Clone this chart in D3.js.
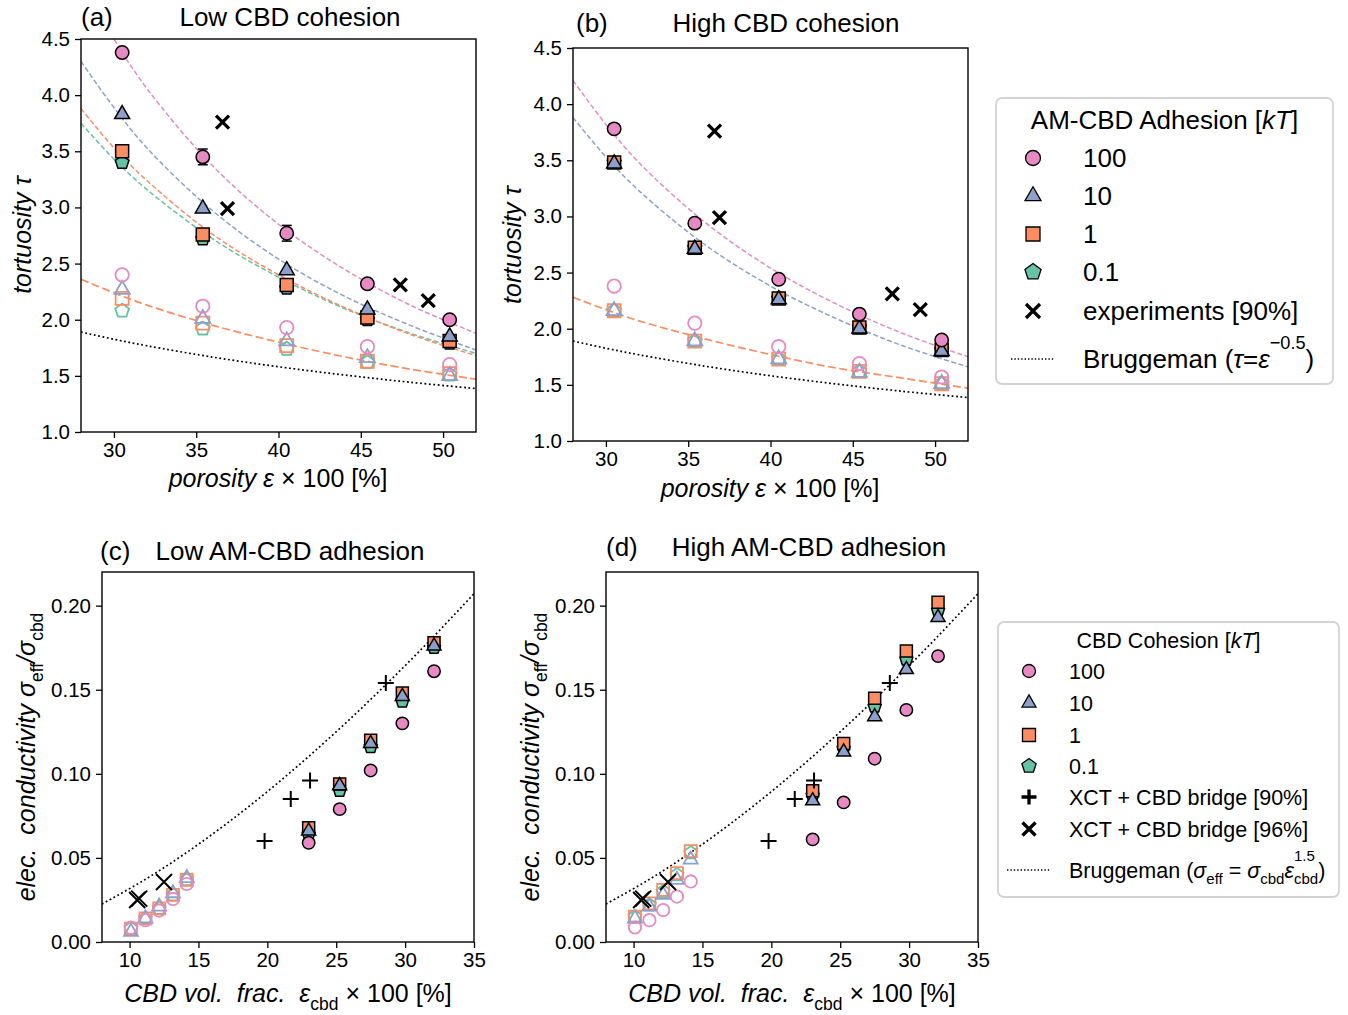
<!DOCTYPE html>
<html>
<head>
<meta charset="utf-8">
<script src="https://cdn.jsdelivr.net/npm/d3@7"></script>
<style>
  body { margin: 0; background: #fff; }
  text { font-family: "Liberation Sans", Arial, sans-serif; fill: #000; }
</style>
</head>
<body>
<script>
// ---- data ----
// tortuosity panels: porosity x 100 [%]
var porosity = [30.5, 35.4, 40.5, 45.4, 50.4];
var expPorosity = [36.6, 36.9, 47.4, 49.1];
var expTau = [3.76, 2.99, 2.31, 2.17];

// (a) low CBD cohesion
var aFill100 = [4.38, 3.45, 2.77, 2.32, 2.00];
var aErr100  = [0.00, 0.07, 0.07, 0.00, 0.00];
var aFill10  = [3.83, 2.99, 2.44, 2.09, 1.85];
var aFill1   = [3.50, 2.76, 2.31, 2.02, 1.81];
var aFill01  = [3.40, 2.72, 2.28, 2.00, 1.79];
var aHol100  = [2.40, 2.12, 1.93, 1.76, 1.60];
var aHol10   = [2.27, 2.01, 1.81, 1.66, 1.50];
var aHol1    = [2.19, 1.97, 1.77, 1.63, 1.52];
var aHol01   = [2.08, 1.92, 1.74, 1.62, 1.51];

// (b) high CBD cohesion
var bFill100 = [3.78, 2.94, 2.44, 2.13, 1.90];
var bFill10  = [3.47, 2.71, 2.26, 2.00, 1.80];
var bFill1   = [3.48, 2.72, 2.27, 2.01, 1.81];
var bFill01  = [3.48, 2.72, 2.27, 2.01, 1.81];
var bHol100  = [2.38, 2.05, 1.84, 1.69, 1.57];
var bHol10   = [2.16, 1.89, 1.73, 1.61, 1.51];
var bHol1    = [2.16, 1.89, 1.73, 1.62, 1.51];
var bHol01   = [2.16, 1.89, 1.73, 1.62, 1.51];

// dashed fit curves and Bruggeman
var fitPorosity = [28, 30, 32, 36, 40, 44, 48, 52];
var aFit100 = [5.02, 4.50, 4.06, 3.37, 2.85, 2.45, 2.13, 1.88];
var aFit10  = [4.30, 3.89, 3.53, 2.97, 2.54, 2.21, 1.95, 1.73];
var aFit1   = [3.88, 3.53, 3.24, 2.76, 2.40, 2.11, 1.87, 1.68];
var aFit01  = [3.75, 3.43, 3.16, 2.72, 2.38, 2.10, 1.88, 1.70];
var aFitHol = [2.36, 2.24, 2.13, 1.95, 1.80, 1.67, 1.56, 1.47];
var bFit100 = [4.21, 3.82, 3.48, 2.95, 2.54, 2.22, 1.96, 1.75];
var bFit10  = [3.88, 3.53, 3.23, 2.75, 2.38, 2.09, 1.85, 1.66];
var bFitHol = [2.28, 2.17, 2.07, 1.91, 1.77, 1.65, 1.56, 1.47];
var bruggTau = [1.890, 1.826, 1.768, 1.667, 1.581, 1.508, 1.443, 1.387];

// conductivity panels: CBD vol. frac. x 100 [%]
var cbdHigh = [23.0, 25.25, 27.5, 29.8, 32.1];
var cbdLow  = [10.1, 11.15, 12.15, 13.15, 14.15];
var xct90X = [19.8, 21.7, 23.1, 28.6];
var xct90Y = [0.060, 0.085, 0.096, 0.154];
var xct96X = [10.55, 10.7, 12.5];
var xct96Y = [0.0250, 0.0258, 0.0357];

// (c) low AM-CBD adhesion
var cFill100 = [0.059, 0.079, 0.102, 0.130, 0.161];
var cFill10  = [0.066, 0.093, 0.118, 0.146, 0.176];
var cFill1   = [0.068, 0.094, 0.120, 0.148, 0.178];
var cFill01  = [0.064, 0.090, 0.116, 0.143, 0.175];
var cHol100  = [0.0085, 0.013, 0.0187, 0.0256, 0.0345];
var cHol10   = [0.006, 0.014, 0.021, 0.029, 0.038];
var cHol1    = [0.008, 0.014, 0.020, 0.028, 0.037];
var cHol01   = [0.008, 0.014, 0.020, 0.028, 0.037];

// (d) high AM-CBD adhesion
var dFill100 = [0.061, 0.083, 0.109, 0.138, 0.170];
var dFill10  = [0.084, 0.113, 0.134, 0.162, 0.193];
var dFill1   = [0.090, 0.118, 0.145, 0.173, 0.202];
var dFill01  = [0.087, 0.115, 0.140, 0.168, 0.197];
var dHol100  = [0.0087, 0.013, 0.019, 0.027, 0.036];
var dHol10   = [0.014, 0.021, 0.028, 0.037, 0.049];
var dHol1    = [0.015, 0.023, 0.031, 0.041, 0.054];
var dHol01   = [0.015, 0.022, 0.030, 0.040, 0.053];

var bruggCbd = [8, 11, 14, 17, 20, 23, 26, 29, 32, 35];
var bruggSig = [0.0226, 0.0365, 0.0524, 0.0701, 0.0894, 0.1103, 0.1326, 0.1562, 0.1810, 0.2071];

var tauTicks = [1.0, 1.5, 2.0, 2.5, 3.0, 3.5, 4.0, 4.5];
var porTicks = [30, 35, 40, 45, 50];
var sigTicks = [0, 0.05, 0.10, 0.15, 0.20];
var cbdTicks = [10, 15, 20, 25, 30, 35];

var legend1Labels = ["100", "10", "1", "0.1", "experiments [90%]"];
var legend2Labels = ["100", "10", "1", "0.1", "XCT + CBD bridge [90%]", "XCT + CBD bridge [96%]"];

// ---- styles ----
var PINK = "#e78ac3", BLUE = "#8da0cb", ORANGE = "#fc8d62", GREEN = "#66c2a5";
var FONT = "'Liberation Sans', Arial, sans-serif";
var TICK_FS = 20.5, LABEL_FS = 25, TITLE_FS = 26;

var svg = d3.select("body").append("svg")
    .attr("width", 1348).attr("height", 1015);

function pentagon(r) {
  var pts = [];
  for (var k = 0; k < 5; k++) {
    var a = -Math.PI / 2 + k * 2 * Math.PI / 5;
    pts.push([r * Math.cos(a), r * Math.sin(a)]);
  }
  return "M" + pts.join("L") + "Z";
}

function shapePath(shape, sz) {
  if (shape === "circle") return d3.symbol(d3.symbolCircle, Math.PI * sz.r * sz.r)();
  if (shape === "triangle") return d3.symbol(d3.symbolTriangle, Math.sqrt(3) / 4 * sz.tri * sz.tri)();
  if (shape === "square") return d3.symbol(d3.symbolSquare, sz.sq * sz.sq)();
  if (shape === "pentagon") return pentagon(sz.pent);
  if (shape === "x") return "M" + -sz.x + "," + -sz.x + "L" + sz.x + "," + sz.x + "M" + -sz.x + "," + sz.x + "L" + sz.x + "," + -sz.x;
  if (shape === "plus") return "M" + -sz.p + ",0L" + sz.p + ",0M0," + -sz.p + "L0," + sz.p;
}

// text with italic / sub / superscript parts; "back" stacks a superscript over the previous subscript
function rich(parent, x, y, parts, size, anchor, rotate) {
  var t = parent.append("text").attr("x", x).attr("y", y)
      .attr("font-size", size).attr("text-anchor", anchor || "start")
      .style("white-space", "pre");
  if (rotate) t.attr("transform", "rotate(" + rotate + "," + x + "," + y + ")");
  var cur = 0, subLen = 0, fwd = 0;
  parts.forEach(function (p) {
    var fs = (p.sub || p.sup) ? 0.7 : 1;
    var off = p.sub ? 0.3 * size : p.sup ? -(p.hi || 0.5) * size : 0;
    var ts = t.append("tspan").text(p.t).attr("font-size", size * fs).attr("dy", off - cur);
    if (p.it) ts.style("font-style", "italic");
    if (p.back) {
      ts.attr("dx", -subLen);
      fwd = Math.max(0, subLen - ts.node().getComputedTextLength());
    } else if (fwd) {
      ts.attr("dx", fwd);
      fwd = 0;
    }
    if (p.sub) subLen = ts.node().getComputedTextLength();
    cur = off;
  });
  return t;
}

function drawPanel(p) {
  var x = d3.scaleLinear().domain(p.xDom).range([p.left, p.right]);
  var y = d3.scaleLinear().domain(p.yDom).range([p.bottom, p.top]);
  var g = svg.append("g");

  g.append("clipPath").attr("id", "clip" + p.id).append("rect")
      .attr("x", p.left).attr("y", p.top)
      .attr("width", p.right - p.left).attr("height", p.bottom - p.top);

  var line = d3.line().x(function (d) { return x(d[0]); })
      .y(function (d) { return y(d[1]); })
      .curve(d3.curveCatmullRom.alpha(0.5));

  p.lines.forEach(function (L) {
    g.append("path").datum(d3.zip(L.x, L.y))
        .attr("d", line)
        .attr("clip-path", "url(#clip" + p.id + ")")
        .attr("fill", "none")
        .attr("stroke", L.color)
        .attr("stroke-width", L.w)
        .attr("stroke-dasharray", L.dash);
  });

  p.series.forEach(function (S) {
    var pts = d3.zip(S.x, S.y);
    if (S.err) {
      var eg = g.append("g").attr("stroke", "#000").attr("stroke-width", 1.5);
      pts.forEach(function (d, i) {
        var e = S.err[i];
        if (!e) return;
        var cx = x(d[0]), y0 = y(d[1] - e), y1 = y(d[1] + e);
        eg.append("line").attr("x1", cx).attr("x2", cx).attr("y1", y0).attr("y2", y1);
        eg.append("line").attr("x1", cx - 5).attr("x2", cx + 5).attr("y1", y0).attr("y2", y0);
        eg.append("line").attr("x1", cx - 5).attr("x2", cx + 5).attr("y1", y1).attr("y2", y1);
      });
    }
    g.append("g").selectAll("path").data(pts).join("path")
        .attr("transform", function (d) { return "translate(" + x(d[0]) + "," + y(d[1]) + ")"; })
        .attr("d", shapePath(S.shape, p.sz))
        .attr("fill", S.fill)
        .attr("stroke", S.stroke)
        .attr("stroke-width", S.sw);
  });

  var ax = g.append("g").attr("transform", "translate(0," + p.bottom + ")")
      .call(d3.axisBottom(x).tickValues(p.xTicks).tickSize(6).tickSizeOuter(0).tickPadding(4)
        .tickFormat(d3.format("d")));
  var ay = g.append("g").attr("transform", "translate(" + p.left + ",0)")
      .call(d3.axisLeft(y).tickValues(p.yTicks).tickSize(6).tickSizeOuter(0).tickPadding(5)
        .tickFormat(d3.format(p.yFmt)));
  [ax, ay].forEach(function (a) {
    a.select(".domain").remove();
    a.attr("font-family", FONT).attr("font-size", TICK_FS);
    a.selectAll("line").attr("stroke-width", 1.3);
    a.selectAll("text").attr("fill", "#000");
  });

  g.append("rect").attr("x", p.left).attr("y", p.top)
      .attr("width", p.right - p.left).attr("height", p.bottom - p.top)
      .attr("fill", "none").attr("stroke", "#000").attr("stroke-width", 1.4);

  return g;
}

function filledSeries(xs, ys, shape, color, err) {
  return { x: xs, y: ys, shape: shape, fill: color, stroke: "#000", sw: 1.5, err: err };
}
function hollowSeries(xs, ys, shape, color) {
  return { x: xs, y: ys, shape: shape, fill: "none", stroke: color, sw: 1.8 };
}

var szTau = { r: 6.7, tri: 15, sq: 13, pent: 7.2, x: 6.5 };
var szSig = { r: 6.2, tri: 14, sq: 12, pent: 6.8, x: 8, p: 8 };
var upperDash = "5,2.5", lowerDash = "8,3.5", dotted = "1.8,2.6";

function tauPanel(id, left, top, fits, fill, hol, err) {
  var lines = [{ x: fitPorosity, y: bruggTau, color: "#000", w: 1.7, dash: dotted }];
  fits.forEach(function (f) {
    lines.push({ x: fitPorosity, y: f[0], color: f[1], w: f[2] ? 1.7 : 1.5, dash: f[2] ? lowerDash : upperDash });
  });
  var shapes = ["pentagon", "square", "triangle", "circle"];
  var colors = [GREEN, ORANGE, BLUE, PINK];
  var series = [];
  hol.forEach(function (s, i) { series.push(hollowSeries(porosity, s, shapes[i], colors[i])); });
  fill.forEach(function (s, i) { series.push(filledSeries(porosity, s, shapes[i], colors[i], i === 3 ? err : null)); });
  series.push({ x: expPorosity, y: expTau, shape: "x", fill: "none", stroke: "#000", sw: 3.3 });
  return drawPanel({
    id: id, left: left, right: left + 395, top: top, bottom: top + 393,
    xDom: [28, 52], yDom: [1, 4.5], xTicks: porTicks, yTicks: tauTicks, yFmt: ".1f",
    sz: szTau, lines: lines, series: series
  });
}

function sigPanel(id, left, fill, hol) {
  var lines = [{ x: bruggCbd, y: bruggSig, color: "#000", w: 1.7, dash: dotted }];
  var shapes = ["pentagon", "square", "triangle", "circle"];
  var colors = [GREEN, ORANGE, BLUE, PINK];
  var series = [];
  hol.forEach(function (s, i) { series.push(hollowSeries(cbdLow, s, shapes[i], colors[i])); });
  fill.forEach(function (s, i) { series.push(filledSeries(cbdHigh, s, shapes[i], colors[i])); });
  series.push({ x: xct90X, y: xct90Y, shape: "plus", fill: "none", stroke: "#000", sw: 2 });
  series.push({ x: xct96X, y: xct96Y, shape: "x", fill: "none", stroke: "#000", sw: 2 });
  return drawPanel({
    id: id, left: left, right: left + 372, top: 572, bottom: 942,
    xDom: [8, 35], yDom: [0, 0.22], xTicks: cbdTicks, yTicks: sigTicks, yFmt: ".2f",
    sz: szSig, lines: lines, series: series
  });
}

tauPanel("a", 81, 39,
  [[aFitHol, ORANGE, true], [aFit01, GREEN], [aFit1, ORANGE], [aFit10, BLUE], [aFit100, PINK]],
  [aFill01, aFill1, aFill10, aFill100], [aHol01, aHol1, aHol10, aHol100], aErr100);
tauPanel("b", 573, 48,
  [[bFitHol, ORANGE, true], [bFit10, BLUE], [bFit100, PINK]],
  [bFill01, bFill1, bFill10, bFill100], [bHol01, bHol1, bHol10, bHol100], null);
sigPanel("c", 102, [cFill01, cFill1, cFill10, cFill100], [cHol01, cHol1, cHol10, cHol100]);
sigPanel("d", 606, [dFill01, dFill1, dFill10, dFill100], [dHol01, dHol1, dHol10, dHol100]);

// ---- titles ----
var T = svg.append("g").attr("font-size", TITLE_FS);
T.append("text").attr("x", 81).attr("y", 26).text("(a)");
T.append("text").attr("x", 290).attr("y", 26).attr("text-anchor", "middle").text("Low CBD cohesion");
T.append("text").attr("x", 576).attr("y", 32).text("(b)");
T.append("text").attr("x", 786).attr("y", 32).attr("text-anchor", "middle").text("High CBD cohesion");
T.append("text").attr("x", 100).attr("y", 560).text("(c)");
T.append("text").attr("x", 290).attr("y", 560).attr("text-anchor", "middle").text("Low AM-CBD adhesion");
T.append("text").attr("x", 606).attr("y", 556).text("(d)");
T.append("text").attr("x", 809).attr("y", 556).attr("text-anchor", "middle").text("High AM-CBD adhesion");

// ---- axis labels ----
var porLabel = [{ t: "porosity ε", it: true }, { t: " × 100 [%]" }];
rich(svg, 278, 487, porLabel, LABEL_FS, "middle");
rich(svg, 770, 497, porLabel, LABEL_FS, "middle");
var tauLabel = [{ t: "tortuosity τ", it: true }];
rich(svg, 31, 235, tauLabel, LABEL_FS, "middle", -90);
rich(svg, 521, 245, tauLabel, LABEL_FS, "middle", -90);
var cbdLabel = [{ t: "CBD vol.  frac.  ε", it: true }, { t: "cbd", sub: true }, { t: " × 100 [%]" }];
rich(svg, 288, 1002, cbdLabel, LABEL_FS, "middle");
rich(svg, 792, 1002, cbdLabel, LABEL_FS, "middle");
var sigLabel = [{ t: "elec.  conductivity σ", it: true }, { t: "eff", sub: true },
                { t: "/σ", it: true }, { t: "cbd", sub: true }];
rich(svg, 35, 757, sigLabel, LABEL_FS, "middle", -90);
rich(svg, 539, 757, sigLabel, LABEL_FS, "middle", -90);

// ---- legends ----
function legend(o) {
  var g = svg.append("g");
  g.append("rect").attr("x", o.x).attr("y", o.y).attr("width", o.w).attr("height", o.h)
      .attr("rx", 6).attr("fill", "#fff").attr("stroke", "#d3d3d3").attr("stroke-width", 1.8);
  rich(g, o.x + o.w / 2, o.titleY, o.title, o.fs, "middle");
  var shapes = ["circle", "triangle", "square", "pentagon"];
  var colors = [PINK, BLUE, ORANGE, GREEN];
  o.labels.forEach(function (lab, i) {
    var yy = o.rows[i];
    var shape = i < 4 ? shapes[i] : o.extra[i - 4];
    g.append("path").attr("transform", "translate(" + o.mx + "," + yy + ")")
        .attr("d", shapePath(shape, o.sz))
        .attr("fill", i < 4 ? colors[i] : "none")
        .attr("stroke", "#000").attr("stroke-width", i < 4 ? 1.3 : 3.3);
    g.append("text").attr("x", o.tx).attr("y", yy).attr("dy", "0.35em")
        .attr("font-size", o.fs).text(lab);
  });
  var by = o.rows[o.rows.length - 1];
  g.append("line").attr("x1", o.mx - 22).attr("x2", o.mx + 22).attr("y1", by).attr("y2", by)
      .attr("stroke", "#000").attr("stroke-width", 1.4).attr("stroke-dasharray", "1.4,2");
  rich(g, o.tx, by + o.fs * 0.35, o.brugg, o.fs, "start");
}

legend({
  x: 996, y: 98, w: 337, h: 286, fs: 26, titleY: 129, mx: 1033, tx: 1083,
  title: [{ t: "AM-CBD Adhesion [" }, { t: "kT", it: true }, { t: "]" }],
  labels: legend1Labels, extra: ["x"], rows: [158, 196, 234, 272, 311, 359],
  sz: { r: 7.5, tri: 16, sq: 14, pent: 8.5, x: 7 },
  brugg: [{ t: "Bruggeman (" }, { t: "τ", it: true }, { t: "=" }, { t: "ε", it: true },
          { t: "−0.5", sup: true, hi: 0.72 }, { t: ")" }]
});

legend({
  x: 998, y: 622, w: 341, h: 275, fs: 21.5, titleY: 648, mx: 1029, tx: 1069,
  title: [{ t: "CBD Cohesion [" }, { t: "kT", it: true }, { t: "]" }],
  labels: legend2Labels, extra: ["plus", "x"], rows: [671, 703, 735, 766, 797, 829, 870],
  sz: { r: 6.5, tri: 14, sq: 13, pent: 7.5, x: 6.5, p: 7.5 },
  brugg: [{ t: "Bruggeman (" }, { t: "σ", it: true }, { t: "eff", sub: true }, { t: " = " },
          { t: "σ", it: true }, { t: "cbd", sub: true }, { t: "ε", it: true }, { t: "cbd", sub: true },
          { t: "1.5", sup: true, hi: 0.75, back: true }, { t: ")" }]
});
</script>
</body>
</html>
